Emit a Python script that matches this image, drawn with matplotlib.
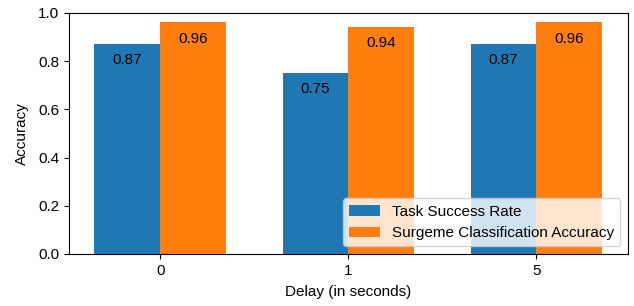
import numpy as np
import matplotlib.pyplot as plt

plt.rcParams['font.family'] = ['Liberation Sans', 'DejaVu Sans']
plt.rcParams['font.size'] = 11

delays = ['0', '1', '5']
task_success = [0.87, 0.75, 0.87]
surgeme_acc = [0.96, 0.94, 0.96]

x = np.arange(len(delays))
w = 0.35

fig, ax = plt.subplots(figsize=(6.34, 3.06), dpi=100)
b1 = ax.bar(x - w / 2, task_success, w, color='#1f77b4', label='Task Success Rate')
b2 = ax.bar(x + w / 2, surgeme_acc, w, color='#ff7f0e', label='Surgeme Classification Accuracy')

# value labels just inside the top of each bar
for bars in (b1, b2):
    for r in bars:
        ax.annotate(f'{r.get_height():.2f}', (r.get_x() + r.get_width() / 2, r.get_height()),
                    xytext=(0, -6.5), textcoords='offset points', ha='center', va='top')

ax.set_xticks(x)
ax.set_xticklabels(delays)
ax.set_ylim(0, 1.0)
ax.set_xlabel('Delay (in seconds)', labelpad=5)
ax.set_ylabel('Accuracy', labelpad=7)
ax.legend(loc='lower right')

fig.subplots_adjust(left=0.109, right=0.99, top=0.958, bottom=0.17)
fig.savefig('out.png')
